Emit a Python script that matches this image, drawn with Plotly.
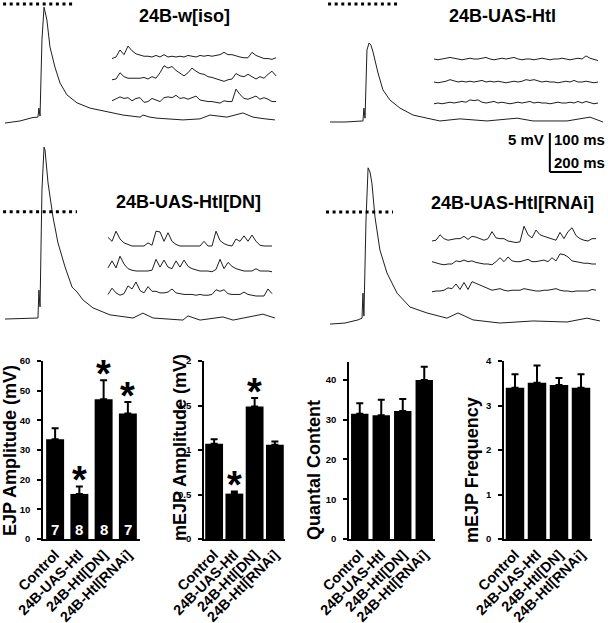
import plotly.graph_objects as go

W, H = 608, 623
FONT = "Liberation Sans, Arial, sans-serif"

# ---------------- EJP traces (time in ms, voltage in mV relative to rest) ----------------
ejp_ctrl_t = [0, 94, 175, 206, 212, 219, 231, 244, 262, 281, 312, 344, 387, 450, 531, 637, 737, 844, 862, 906,
              950, 1112, 1219, 1281, 1331, 1387, 1487, 1550, 1625, 1687]
ejp_ctrl_v = [-0.3, 0.3, 1.3, 1.4, 4.0, 1.7, 23.6, 33.0, 29.3, 21.6, 15.8, 11.2, 7.8, 5.5, 4.0, 2.9, 2.0, 1.4, 2.0, 1.4,
              1.1, 0.6, 0.9, 2.0, 1.7, 1.4, 2.6, 1.4, 0.9, 0.6]

ejp_htl_t = [0, 94, 206, 212, 219, 231, 244, 256, 269, 300, 331, 375, 437, 519, 606, 687, 812, 981, 1169, 1269,
             1481, 1625, 1706]
ejp_htl_v = [0, 0, 0.3, 4.0, 1.1, 20.7, 22.7, 22.1, 20.1, 14.1, 9.2, 6.3, 4.0, 2.0, 1.1, 0.3, 0.9, 0.3, 1.1, 0.3,
             0.3, 1.4, 0]

ejp_dn_t = [0, 206, 212, 219, 231, 244, 250, 269, 300, 331, 375, 419, 450, 487, 550, 656, 800, 862, 925, 1112,
            1144, 1219, 1362, 1425, 1612, 1687]
ejp_dn_v = [-0.3, 0, 8.0, 3.2, 36.8, 49.1, 48.3, 38.8, 29.0, 21.6, 14.7, 8.9, 7.5, 5.2, 2.9, 0.9, 0, 1.4, 0, -0.6,
            0.6, -0.6, 0.3, -0.6, 1.1, 0]

ejp_rnai_t = [0, 94, 175, 200, 206, 212, 225, 238, 250, 262, 281, 312, 356, 419, 500, 606, 731, 800, 894, 1062,
              1269, 1481, 1606, 1687]
ejp_rnai_v = [-0.6, -0.3, 0.6, 1.1, 8.3, 1.7, 29.3, 44.3, 43.1, 39.9, 30.2, 20.7, 14.1, 8.3, 4.3, 2.6, 1.1, 2.6, 0.6, -0.3,
              0.3, 0, 1.1, 0.3]

# reference level of dotted line (mV)
dotted_level = [33.9, 33.9, 30.5, 31.6]

# ---------------- mEJP traces (mV, sampled every 12.5 ms) ----------------
MEJP_DT = 12.5
mejp_ctrl_1 = [-0.2, 0, 0.9, 0.3, 1.4, 0.8, 0.4, 0.2, 0.1, 0.1, 0.0, 0.2, 0.0, 0.3, 0.0, 0.1, 0.0, 0.1, 0.0, 0.2,
               0.1, 0.0, 0.2, 0.1, 0.2, 0.1, 0.2, 0.3, 0.6, 0.3, 0.3, 0.1, 0.0, -0.1, -0.1, 0.6, 0.2, 0.0, -0.2, -0.2,
               -0.3, -0.1]
mejp_ctrl_2 = [-0.1, 0, 0.8, 0.3, 0.1, 0.1, 0.1, 0.1, 0.2, 0.0, 0.3, 0.1, 0.8, 1.7, 1.4, 1.6, 1.1, 0.8, 0.4, 0.8,
               1.4, 1.0, 0.7, 0.6, 0.3, 0.2, 0.0, -0.2, -0.3, -0.1, 0, 0.7, 0.4, 0.3, 0.6, 0.3, 0.0, 0.3, 0.1, 0.6,
               1.0, 0.4]
mejp_ctrl_3 = [-0.1, 0.1, 0.4, 0.2, 0.3, -0.1, 0.2, 0.3, -0.3, -0.2, 0.2, 0, -0.2, 0.3, 0.4, 0.3, 0.6, 0.2, 0.3, 0.1,
               0.3, 0.5, 0, -0.1, -0.2, -0.2, -0.3, -0.4, -0.1, -0.2, -0.2, 1.4, 0.7, 0.2, 0.1, 0.3, 0.5, 0.1, 0.3, 0.1,
               -0.2, -0.2]

mejp_htl_1 = [0.0, -0.1, 0.0, 0.1, 0.2, 0.1, 0.0, -0.1, 0.0, 0.1, 0.0, 0.0, 0.1, 0.2, 0.0, -0.1, 0.0, 0.1, 0.0, 0.1,
              0.2, 0.0, -0.1, 0.0, 0.0, -0.1, 0.0, 0.1, 0.0, -0.1, 0.0, 0.0, 0.1, 0.0, -0.1, 0.0, 0.1, 0.0, 0.4, 0.1,
              -0.1, -0.2]
mejp_htl_2 = [0.0, -0.1, 0.0, 0.1, 0.3, 0.1, 0.0, 0.1, 0.0, 0.1, 0.0, 0.1, 0.2, 0.0, 0.1, 0.0, 0.1, 0.0, -0.1, 0.0,
              0.1, 0.0, 0.1, 0.3, 0.2, 0.3, 0.1, 0.0, 0.1, 0.0, 0.0, -0.1, 0.0, 0.1, 0.0, 0.2, 0.0, 0.0, 0.1, 0.0,
              -0.1, 0.0]
mejp_htl_3 = [-0.1, 0.0, -0.1, 0.0, 0.1, 0.0, 0.1, 0.2, 0.1, 0.4, 0.3, 0.4, 0.1, 0.0, 0.1, 0.2, 0.0, 0.1, 0.0, -0.1,
              0.0, 0.1, 0.0, 0.1, 0.2, 0.0, 0.1, 0.0, 0.0, -0.1, 0.0, 0.1, 0.0, 0.0, 0.1, 0.0, 0.2, 0.0, 0.2, 0.0,
              -0.1, 0.0]

mejp_dn_1 = [1.1, 0.6, 1.9, 0.9, 0.4, 0.2, 0.0, 0, 0, 0, 0.4, 0.1, 1.9, 1.8, 0.6, 1.7, 0.6, 0.2, 0, 0,
             0, 0, 0, 0, 0.6, 0, 0, 1.9, 0.7, 0.3, 0.1, 0, 0.9, 0.6, 1.3, 0.6, 1.4, 0.6, 0.1, 0,
             0, 0]
mejp_dn_2 = [0.4, 1.3, 0.4, 1.9, 0.9, 0.3, 0.1, 0, 0, 0, 0, 0.1, 1.5, 0.5, 1.4, 0.5, 0.3, 1.3, 0.5, 1.4,
             0.6, 0.3, 0.1, 0, 0, 0, -0.1, 0.2, 1.5, 0.3, 1.1, 0.6, 0.3, 0.1, 0, 0, 0, 0.3, 0, 0,
             0, -0.1]
mejp_dn_3 = [0.2, 1.0, 0.4, 0.1, 0.3, 1.3, 0.9, 1.8, 0.7, 0.4, 1.2, 0.6, 0.6, 0.4, 0.4, 0.5, 0.9, 0.4, 0.3, 0.2,
             0.2, 0.2, 0.1, 0.2, 0.1, 0.1, 0.2, 0.8, 0.6, 0.8, 0.3, 0.2, 0.2, 0.2, 0.5, 0.2, 0.1, 0, 0, 0,
             0.9, 0.3]

mejp_rnai_1 = [0, 0.1, 0.8, 0.3, 0.1, 0.2, 0.3, 0.3, 0.6, 0.2, 0.6, 0.5, 0.3, 0.1, 0.3, 1.2, 0.4, 0.3, 0.3, 0,
               -0.1, -0.2, -0.1, 1.9, 0.8, 0.4, 1.4, 0.8, 0.6, 0.4, 0.2, 0.1, 1.1, 0.3, 1.2, 1.7, 0.7, 0.3, 0.1, 0,
               0.3, 0.3]
mejp_rnai_2 = [0.3, 0.1, 0, -0.1, 0, 0, 0.4, 0.3, 0.5, 0.3, 0.4, 0.2, 0.1, 0, 0, -0.1, 0.3, 0.8, 0.3, 0.9,
               0.4, 0.3, 0.3, 0.5, 0.6, 0.3, 0.3, 0.4, 0.5, 0.3, 0.8, 0.4, 1.3, 1.2, 0.9, 0.4, 0.3, 0.2, 0.1, 0.1,
               0, 0]
mejp_rnai_3 = [-0.1, 0, 0, 0.1, 0.4, 0.3, 0.9, 0.2, 1.1, 0.2, 1.2, 1.0, 0.8, 0.5, 0.3, 0.1, 0.2, 0.3, 0.1, 0,
               0.1, 0.1, 0.1, 0.3, 0.2, 0.1, 0, 0, 0.1, 0.1, 0.2, 0.3, 0.1, 0, 0, -0.1, 0, 0, 0, 0,
               0.2, 0.1]

panel_titles = ["24B-w[iso]", "24B-UAS-Htl", "24B-UAS-Htl[DN]", "24B-UAS-Htl[RNAi]"]

# ---------------- bar chart data ----------------
categories = ["Control", "24B-UAS-Htl", "24B-Htl[DN]", "24B-Htl[RNAi]"]
ejp_amp = [33.6, 15.2, 47.1, 42.3]
ejp_amp_err = [3.7, 2.5, 6.4, 3.9]
mejp_amp = [1.07, 0.51, 1.49, 1.06]
mejp_amp_err = [0.05, 0.025, 0.095, 0.035]
quantal = [31.5, 31.1, 32.2, 40.0]
quantal_err = [2.6, 3.9, 3.0, 3.3]
mejp_freq = [3.40, 3.51, 3.46, 3.40]
mejp_freq_err = [0.30, 0.39, 0.16, 0.30]
n_larvae = [7, 8, 8, 7]
sig_ejp = [False, True, True, True]
sig_mejp = [False, True, True, False]

# ---------------- layout helpers ----------------
layout = dict(width=W, height=H, margin=dict(l=0, r=0, t=0, b=0), autosize=False,
              paper_bgcolor="white", plot_bgcolor="rgba(0,0,0,0)", showlegend=False,
              font=dict(family=FONT, color="black"))
annotations = []
shapes = []
traces = []


def ax_names(n):
    return ("xaxis" if n == 1 else f"xaxis{n}", "yaxis" if n == 1 else f"yaxis{n}",
            "x" if n == 1 else f"x{n}", "y" if n == 1 else f"y{n}")


def pixel_axes(n, x0, sx, xl, xr, y0, sy, yt, yb):
    """Hidden axes: data x=0 at pixel x0 (sx px/unit); data y=0 at pixel y0 (sy px/unit)."""
    xa, ya, xr_, yr_ = ax_names(n)
    layout[xa] = dict(domain=[xl / W, xr / W], range=[(xl - x0) / sx, (xr - x0) / sx],
                      visible=False, anchor=yr_, fixedrange=True)
    layout[ya] = dict(domain=[1 - yb / H, 1 - yt / H], range=[(y0 - yb) / sy, (y0 - yt) / sy],
                      visible=False, anchor=xr_, fixedrange=True)
    return xr_, yr_


def px(x, y):
    return x / W, 1 - y / H


LINE = dict(color="#1e1e1e", width=1)

# EJP panels
SX_EJP, SY_EJP = 0.16, 3.48
ejp_data = [(ejp_ctrl_t, ejp_ctrl_v), (ejp_htl_t, ejp_htl_v), (ejp_dn_t, ejp_dn_v), (ejp_rnai_t, ejp_rnai_v)]
ejp_geom = [dict(x0=5, y0=122, xl=0, xr=300, yt=0, yb=135, dot=(-12, 425), title=(184, 16)),
            dict(x0=330, y0=122, xl=300, xr=608, yt=0, yb=135, dot=(-12, 419), title=(502, 16)),
            dict(x0=5, y0=318, xl=0, xr=300, yt=140, yb=330, dot=(-12, 450), title=(188, 202)),
            dict(x0=330, y0=322, xl=300, xr=608, yt=140, yb=330, dot=(-25, 394), title=(512, 203))]
for i, ((t, v), g) in enumerate(zip(ejp_data, ejp_geom)):
    xr_, yr_ = pixel_axes(i + 1, g["x0"], SX_EJP, g["xl"], g["xr"], g["y0"], SY_EJP, g["yt"], g["yb"])
    traces.append(go.Scatter(x=t, y=v, mode="lines", line=LINE, xaxis=xr_, yaxis=yr_, hoverinfo="skip"))
    traces.append(go.Scatter(x=list(g["dot"]), y=[dotted_level[i]] * 2, mode="lines",
                             line=dict(color="black", width=3, dash="3px,3.6px"),
                             xaxis=xr_, yaxis=yr_, hoverinfo="skip"))
    tx, ty = px(*g["title"])
    annotations.append(dict(text=panel_titles[i], x=tx, y=ty, xref="paper", yref="paper",
                            showarrow=False, xanchor="center", yanchor="middle",
                            font=dict(size=18, family=FONT, weight="bold", color="black")))

# mEJP panels
SX_MEJP, SY_MEJP = 0.32, 7.8
mejp_data = [(mejp_ctrl_1, mejp_ctrl_2, mejp_ctrl_3), (mejp_htl_1, mejp_htl_2, mejp_htl_3),
             (mejp_dn_1, mejp_dn_2, mejp_dn_3), (mejp_rnai_1, mejp_rnai_2, mejp_rnai_3)]
mejp_geom = [dict(x0=112, y0=57, xl=100, xr=290, yt=35, yb=118, rows=[0, 22, 43]),
             dict(x0=434, y0=59, xl=420, xr=608, yt=35, yb=190, rows=[0, 23, 44]),
             dict(x0=108, y0=246, xl=95, xr=290, yt=218, yb=312, rows=[0, 25, 50]),
             dict(x0=432, y0=241, xl=420, xr=608, yt=215, yb=305, rows=[0, 23, 50])]
for i, (group, g) in enumerate(zip(mejp_data, mejp_geom)):
    n = i + 5
    xr_, yr_ = pixel_axes(n, g["x0"], SX_MEJP, g["xl"], g["xr"], g["y0"], SY_MEJP, g["yt"], g["yb"])
    for vals, off_px in zip(group, g["rows"]):
        off = off_px / SY_MEJP
        traces.append(go.Scatter(x=[k * MEJP_DT for k in range(len(vals))], y=[v - off for v in vals],
                                 mode="lines", line=LINE, xaxis=xr_, yaxis=yr_, hoverinfo="skip"))
    if i == 1:
        # scale bar: 5 mV / 100 ms (mEJP) ; 200 ms (EJP)
        SCALE_MV, SCALE_MS = 5, 100
        sb_t, sb_v = 362, -14.5
        shapes.append(dict(type="line", xref=xr_, yref=yr_, x0=sb_t, x1=sb_t, y0=sb_v, y1=sb_v + SCALE_MV,
                           line=dict(color="black", width=2)))
        shapes.append(dict(type="line", xref=xr_, yref=yr_, x0=sb_t, x1=sb_t + SCALE_MS, y0=sb_v, y1=sb_v,
                           line=dict(color="black", width=2)))

sb_font = dict(size=15, family=FONT, weight="bold", color="black")
for text, (x, y), anc in [("5 mV", (546, 139), "right"), ("100 ms", (552, 139), "left"),
                          ("200 ms", (552, 162), "left")]:
    tx, ty = px(x, y)
    annotations.append(dict(text=text, x=tx, y=ty, xref="paper", yref="paper", showarrow=False,
                            xanchor=anc, yanchor="middle", font=sb_font))

# bar charts
bar_sets = [(ejp_amp, ejp_amp_err, "EJP Amplitude (mV)"),
            (mejp_amp, mejp_amp_err, "mEJP Amplitude (mV)"),
            (quantal, quantal_err, "Quantal Content"),
            (mejp_freq, mejp_freq_err, "mEJP Frequency")]
bar_geom = [dict(xl=43, xr=140, yt=361, yb=539, rng=[0, 60], dtick=10, w=0.74, title=(10, 451)),
            dict(xl=204, xr=285, yt=361, yb=539, rng=[0, 2], dtick=0.5, w=0.88, title=(180, 448)),
            dict(xl=349, xr=435, yt=362, yb=539, rng=[0, 44.5], dtick=10, w=0.81, title=(314, 470)),
            dict(xl=504, xr=592, yt=361, yb=539, rng=[0, 4], dtick=1, w=0.84, title=(472, 470))]
for i, ((vals, errs, ytitle), g) in enumerate(zip(bar_sets, bar_geom)):
    n = i + 9
    xa, ya, xr_, yr_ = ax_names(n)
    layout[xa] = dict(domain=[g["xl"] / W, g["xr"] / W], range=[-0.5, 3.5], anchor=yr_,
                      showline=True, linecolor="black", linewidth=1.6, ticks="", showgrid=False,
                      zeroline=False, tickangle=-45, automargin=False, fixedrange=True,
                      tickfont=dict(size=14.3, family=FONT, weight="bold", color="black"))
    layout[ya] = dict(domain=[1 - g["yb"] / H, 1 - g["yt"] / H], range=g["rng"], dtick=g["dtick"],
                      anchor=xr_, showline=True, linecolor="black", linewidth=1.6, ticks="outside",
                      ticklen=4, tickwidth=1.5, tickcolor="black", showgrid=False, zeroline=False,
                      automargin=False, fixedrange=True, ticklabelstandoff=5,
                      tickfont=dict(size=9.5, family=FONT, weight="bold", color="black"))
    traces.append(go.Bar(x=categories, y=vals, width=g["w"], marker=dict(color="black", line=dict(width=0)),
                         error_y=dict(type="data", symmetric=False, array=errs, arrayminus=[0] * len(errs),
                                      color="black", thickness=2, width=3.5),
                         xaxis=xr_, yaxis=yr_, hoverinfo="skip"))
    tx, ty = px(*g["title"])
    annotations.append(dict(text=ytitle, x=tx, y=ty, xref="paper", yref="paper", showarrow=False,
                            textangle=-90, xanchor="center", yanchor="middle",
                            font=dict(size=18, family=FONT, weight="bold", color="black")))
    sig = sig_ejp if i == 0 else (sig_mejp if i == 1 else [False] * 4)
    for c, v, e, s in zip(categories, vals, errs, sig):
        if s:
            annotations.append(dict(text="*", x=c, y=v + e, xref=xr_, yref=yr_, showarrow=False,
                                    xanchor="center", yanchor="bottom", yshift=-17,
                                    font=dict(size=38, family=FONT, weight="bold", color="black")))
    if i == 0:
        for c, nl in zip(categories, n_larvae):
            annotations.append(dict(text=str(nl), x=c, y=0, xref=xr_, yref=yr_, showarrow=False,
                                    xanchor="center", yanchor="middle", yshift=10,
                                    font=dict(size=15, family=FONT, weight="bold", color="white")))

layout["annotations"] = annotations
layout["shapes"] = shapes
fig = go.Figure(data=traces, layout=layout)
fig.write_html("out.html", config={"displayModeBar": False},
               post_script="document.body.style.margin='0';document.body.style.overflow='hidden';")
